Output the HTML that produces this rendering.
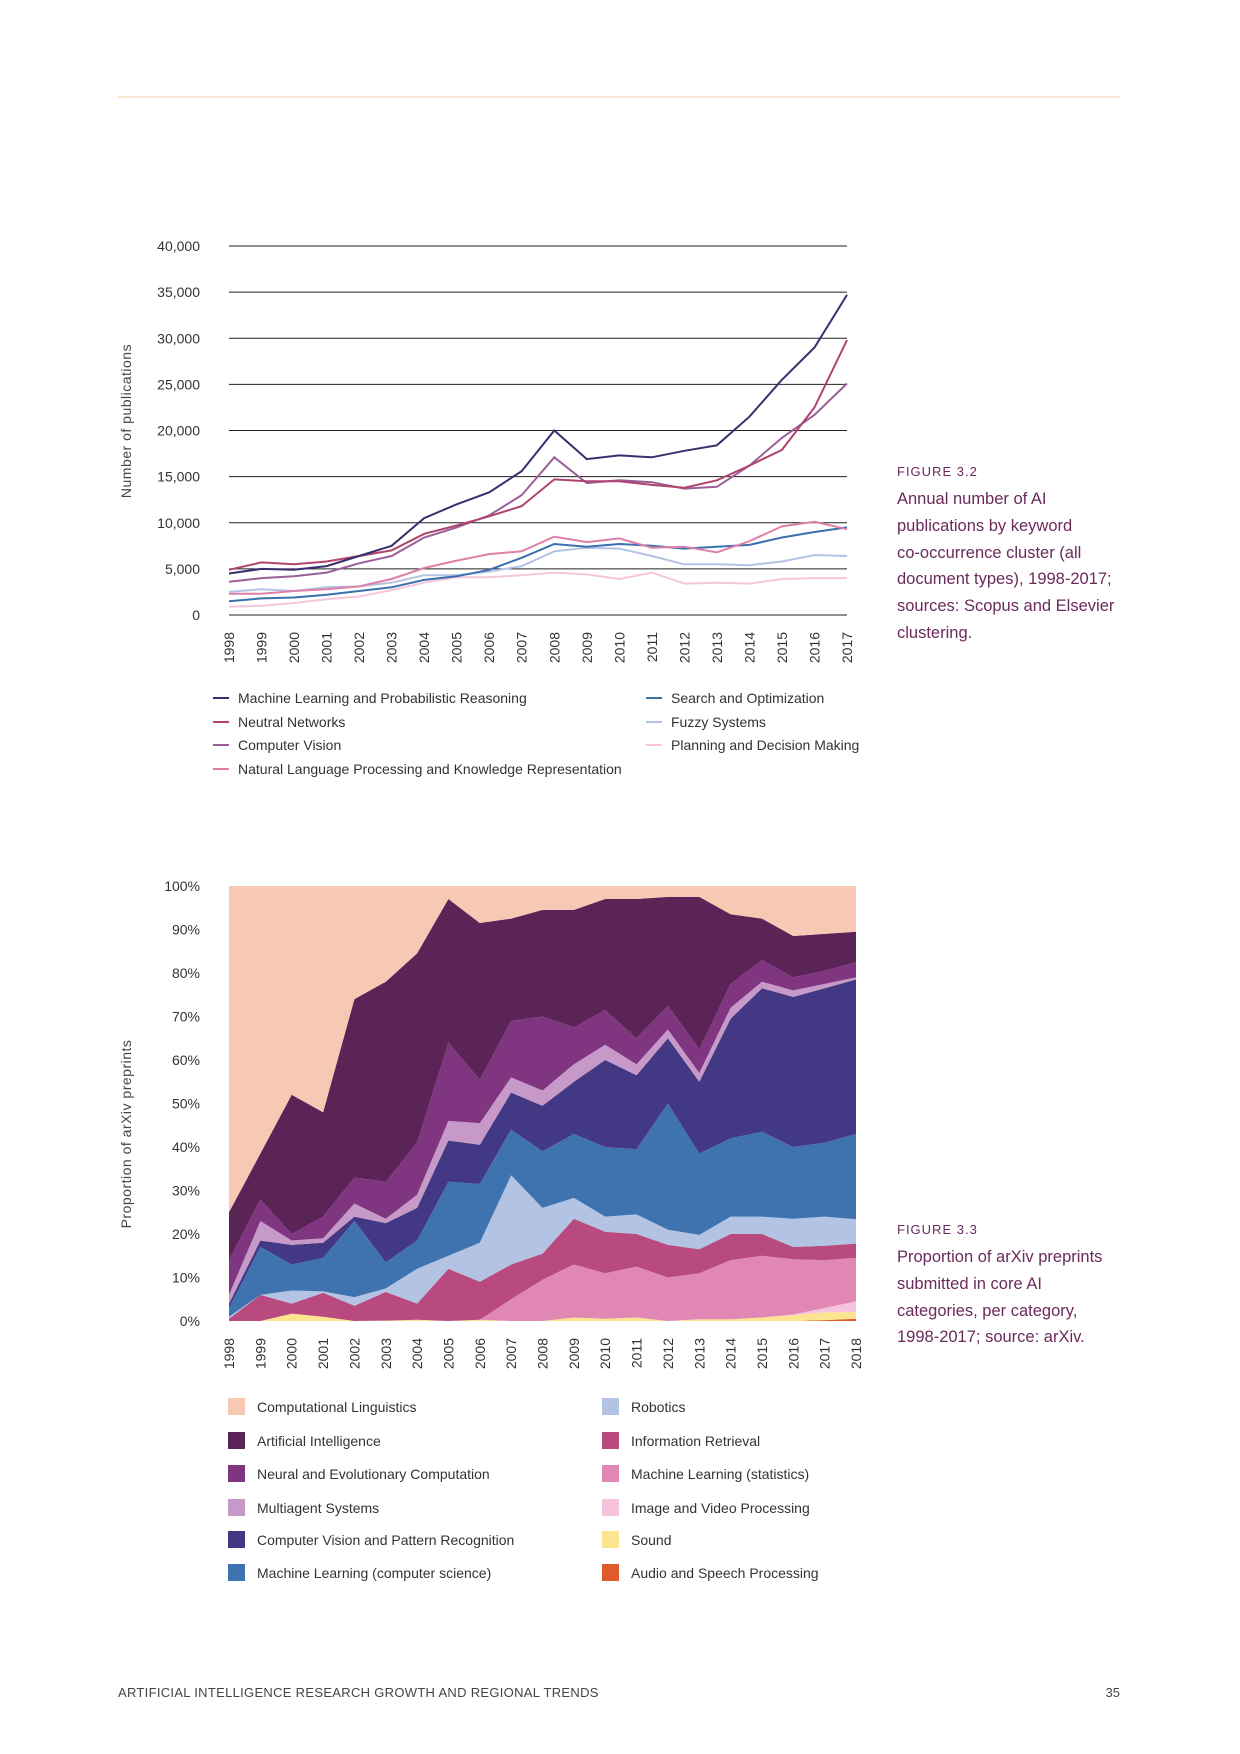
<!DOCTYPE html>
<html><head><meta charset="utf-8"><style>
html,body{margin:0;padding:0;background:#fff}
body{width:1240px;height:1754px;position:relative;overflow:hidden;font-family:"Liberation Sans",sans-serif}
svg{position:absolute;left:0;top:0}
.cap{position:absolute;left:897px;color:#6a2a5c;font-size:16.5px;line-height:26.8px;width:260px;white-space:nowrap}
.cap .fig{font-size:13px;letter-spacing:1px;line-height:20px;margin-bottom:4px}
</style></head><body>
<svg id="page" width="1240" height="1754">
<line x1="118" y1="97" x2="1120" y2="97" stroke="#f9dcc4" stroke-width="1.5"/>
<g id="c1"></g>
<g id="c2"></g>
<text x="118" y="1697" font-size="13" fill="#444" letter-spacing="0.3">ARTIFICIAL INTELLIGENCE RESEARCH GROWTH  AND REGIONAL TRENDS</text>
<text x="1120" y="1697" font-size="13" fill="#444" text-anchor="end">35</text>
</svg>
<div class="cap" style="top:462px"><div class="fig">FIGURE 3.2</div>Annual number of AI<br>publications by keyword<br>co-occurrence cluster (all<br>document types), 1998-2017;<br>sources: Scopus and Elsevier<br>clustering.</div>
<div class="cap" style="top:1220px"><div class="fig">FIGURE 3.3</div>Proportion of arXiv preprints<br>submitted in core AI<br>categories, per category,<br>1998-2017; source: arXiv.</div>
<script>
const NS="http://www.w3.org/2000/svg";
function mk(p,t,a,txt){const e=document.createElementNS(NS,t);for(const k in a)e.setAttribute(k,a[k]);if(txt!==undefined)e.textContent=txt;p.appendChild(e);return e;}
const FONT='"Liberation Sans Narrow","Liberation Sans",sans-serif';

// ---- Chart 1 data ----
const years1=[1998,1999,2000,2001,2002,2003,2004,2005,2006,2007,2008,2009,2010,2011,2012,2013,2014,2015,2016,2017];
const yTicks1=[0,5000,10000,15000,20000,25000,30000,35000,40000];
const yTickLabels1=["0","5,000","10,000","15,000","20,000","25,000","30,000","35,000","40,000"];
const seriesNames1=["Machine Learning and Probabilistic Reasoning","Neutral Networks","Computer Vision","Natural Language Processing and Knowledge Representation","Search and Optimization","Fuzzy Systems","Planning and Decision Making"];
const mlValues=[4500,5000,4900,5300,6400,7500,10500,12000,13300,15600,20000,16900,17300,17100,17800,18400,21500,25500,29000,34700];
const nnValues=[4900,5700,5500,5800,6400,7000,8800,9700,10700,11800,14700,14500,14500,14100,13800,14600,16200,17900,22500,29800];
const cvValues=[3600,4000,4200,4600,5600,6400,8400,9500,10800,13000,17100,14300,14600,14400,13700,13900,16200,19200,21700,25100];
const nlpValues=[2300,2300,2600,2800,3100,3900,5100,5900,6600,6900,8500,7900,8300,7300,7400,6800,8000,9600,10100,9300];
const searchValues=[1500,1800,1900,2200,2600,3000,3800,4200,4900,6200,7700,7400,7700,7500,7200,7400,7600,8400,9000,9500];
const fuzzyValues=[2500,2800,2600,3000,3100,3500,4300,4300,4700,5300,6900,7300,7200,6400,5500,5500,5400,5800,6500,6400];
const planningValues=[900,1000,1300,1700,2000,2700,3500,4100,4100,4300,4600,4400,3900,4600,3400,3500,3400,3900,4000,4000];

(function(){
 const g=document.getElementById('c1');
 const X0=229,X1=847,Y0=615,Y1=246,max=40000;
 const sx=i=>X0+(X1-X0)*i/(years1.length-1);
 const sy=v=>Y0-(Y0-Y1)*v/max;
 yTicks1.forEach((t,i)=>{
  const l=mk(g,'line',{x1:X0,x2:X1,y1:sy(t),y2:sy(t),stroke:'#222','stroke-width':1});
  
  
  const tx=mk(g,'text',{x:200,y:sy(t)+5,'text-anchor':'end','font-size':14,fill:'#333','font-family':FONT},yTickLabels1[i]);
  
  
 });
 years1.forEach((y,i)=>{
  const tx=mk(g,'text',{transform:`translate(${sx(i)+5},${632}) rotate(-90)`,'text-anchor':'end','font-size':14,fill:'#333','font-family':FONT},y);
  
  
 });
 const t=mk(g,'text',{transform:'translate(131,421) rotate(-90)','text-anchor':'middle','font-size':14,fill:'#444','letter-spacing':'0.5'},'Number of publications');
 
 
 const series=[mlValues,nnValues,cvValues,nlpValues,searchValues,fuzzyValues,planningValues];
 const colors=['#3b2d6e','#b0446e','#9a5f97','#e07fa9','#3b6fad','#b3c3e3','#f5c6d9'];
 for(let s=series.length-1;s>=0;s--){
  const d=series[s].map((v,i)=>(i?'L':'M')+sx(i).toFixed(1)+','+sy(v).toFixed(1)).join('');
  const p=mk(g,'path',{d,fill:'none',stroke:colors[s],'stroke-width':2});
  
  
 }
 const pos=[[213,698],[213,722],[213,745],[213,769],[646,698],[646,722],[646,745]];
 seriesNames1.forEach((n,s)=>{
  const [x,y]=pos[s];
  const l=mk(g,'line',{x1:x,x2:x+16,y1:y,y2:y,stroke:colors[s],'stroke-width':2});
  
  
  const tx=mk(g,'text',{x:x+25,y:y+5,'font-size':14,fill:'#333'},n);
  
  
 });
})();

// ---- Chart 2 data (shares in %, bottom to top) ----
const years2=[1998,1999,2000,2001,2002,2003,2004,2005,2006,2007,2008,2009,2010,2011,2012,2013,2014,2015,2016,2017,2018];
const yTicks2=[0,10,20,30,40,50,60,70,80,90,100];
const audioShare=[0,0,0,0,0,0,0,0,0,0,0,0,0,0,0,0,0,0,0,0.2,0.5];
const soundShare=[0,0,1.7,1,0,0.1,0.3,0,0.3,0,0,0.8,0.5,0.8,0,0.4,0.4,0.8,1.3,1.8,1.5];
const imageShare=[0,0,0,0,0,0,0,0,0,0,0,0,0,0,0,0,0,0,0.2,1,2.5];
const mlStatsShare=[0,0,0,0,0,0,0,0,0,5,9.5,12.2,10.5,11.7,10,10.6,13.6,14.2,12.7,11,10];
const irShare=[0.5,6,2.3,5.5,3.5,6.6,3.7,12,8.7,8,6,10.5,9.5,7.5,7.5,5.5,6,5,2.8,3.3,3.3];
const roboticsShare=[0.5,0,3,0.3,2,0.8,8,3,9,20.5,10.5,4.8,3.5,4.5,3.5,3.3,4,4,6.5,6.7,5.6];
const mlCsShare=[2,11,6,7.7,17.5,6,6.5,17,13.5,10.5,13,14.7,16,15,29,18.7,18,19.5,16.5,17,19.6];
const cvShare=[1,1.5,4.5,3.5,1,9,7.5,9.5,9,8.5,10.5,12,20,17,15,16.5,27.5,33,34.5,35.5,35.5];
const multiagentShare=[2,4.5,1,1,3,1,3,4.5,5,3.5,3.5,4,3.5,2.5,2,2,2.5,1.5,1.5,1,0.5];
const neuralShare=[8,5,1.5,5,6,8.5,12,18,10,13,17,8.5,8,6,5.5,5.5,5.5,5,3,3,3.5];
const aiShare=[11,10.5,32,24,41,46,43.5,33,36,23.5,24.5,27,25.5,32,25,35,16,9.5,9.5,8.5,7];
const clShare=[75,61.5,48,52,26,22,15.5,3,8.5,7.5,5.5,5.5,3,3,2.5,2.5,6.5,7.5,11.5,11,10.5];
const categories2=["Audio and Speech Processing","Sound","Image and Video Processing","Machine Learning (statistics)","Information Retrieval","Robotics","Machine Learning (computer science)","Computer Vision and Pattern Recognition","Multiagent Systems","Neural and Evolutionary Computation","Artificial Intelligence","Computational Linguistics"];

(function(){
 const g=document.getElementById('c2');
 const X0=229,X1=856,Y0=1321,Y1=886;
 const sx=i=>X0+(X1-X0)*i/(years2.length-1);
 const sy=v=>Y0-(Y0-Y1)*v/100;
 const layers=[audioShare,soundShare,imageShare,mlStatsShare,irShare,roboticsShare,mlCsShare,cvShare,multiagentShare,neuralShare,aiShare,clShare];
 const colors=['#e05a2b','#fde58f','#f6c3dc','#e088b3','#b94a7f','#b3c3e3','#3f73b0','#423884','#c699c8','#7f3580','#5b2456','#f7c8b4'];
 const base=years2.map(()=>0);
 layers.forEach((L,k)=>{
  const top=base.map((b,i)=>b+L[i]);
  let d=top.map((v,i)=>(i?'L':'M')+sx(i).toFixed(1)+','+sy(Math.min(v,100)).toFixed(1)).join('');
  for(let i=base.length-1;i>=0;i--) d+='L'+sx(i).toFixed(1)+','+sy(base[i]).toFixed(1);
  const p=mk(g,'path',{d:d+'Z',fill:colors[k]});
  
  
  top.forEach((v,i)=>base[i]=v);
 });
 yTicks2.forEach(t=>{
  const tx=mk(g,'text',{x:200,y:sy(t)+5,'text-anchor':'end','font-size':14,fill:'#333','font-family':FONT},t+'%');
  
  
 });
 years2.forEach((y,i)=>{
  const tx=mk(g,'text',{transform:`translate(${sx(i)+5},1338) rotate(-90)`,'text-anchor':'end','font-size':14,fill:'#333','font-family':FONT},y);
  
  
 });
 const t=mk(g,'text',{transform:'translate(131,1134) rotate(-90)','text-anchor':'middle','font-size':14,fill:'#444','letter-spacing':'0.5'},'Proportion of arXiv preprints');
 
 
 const order=[11,10,9,8,7,6,5,4,3,2,1,0];
 const rows=[1407,1441,1474,1508,1540,1573];
 order.forEach((k,j)=>{
  const col=j<6?0:1, y=rows[j%6], x=col?602:228;
  const r=mk(g,'rect',{x,y:y-9,width:17,height:17,fill:colors[k]});
  
  
  const tx=mk(g,'text',{x:x+29,y:y+5,'font-size':14,fill:'#333'},categories2[k]);
  
  
 });
})();
</script>
</body></html>
